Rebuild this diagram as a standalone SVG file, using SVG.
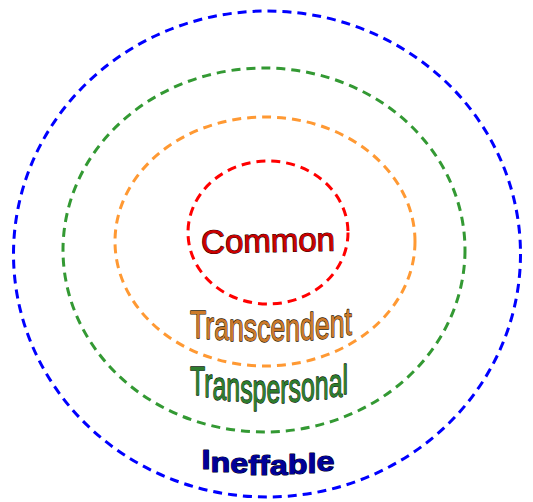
<svg xmlns="http://www.w3.org/2000/svg" width="533" height="502" viewBox="0 0 533 502">
  <style>
    .ring { fill: none; stroke-width: 3; stroke-dasharray: 9 6; }
    .lbl { font-family: "Liberation Sans", Arial, sans-serif; stroke-width: 1.1; paint-order: stroke; stroke-linejoin: round; text-anchor: middle; }
  </style>
  <rect width="533" height="502" fill="#ffffff"/>

  <g id="ineffable">
    <ellipse class="ring" cx="267" cy="254" rx="253.5" ry="243" stroke="#0000ff"/>
    <text class="lbl" x="268" y="469.4" font-size="28" font-weight="bold" fill="#000099" stroke="#000022" textLength="133" lengthAdjust="spacingAndGlyphs" dy="0 2.3 1.7 1.1 0.5 -0.1 -0.6 -1.3 -1.8">Ineffable</text>
  </g>

  <g id="transpersonal">
    <ellipse class="ring" cx="264" cy="250" rx="201" ry="182" stroke="#339933"/>
    <text class="lbl" x="269" y="395" font-size="36" fill="#2e7d2e" stroke="#0a200a" textLength="158" lengthAdjust="spacingAndGlyphs" transform="matrix(1 0 0 1.15 0 -59.7)" dy="0 2.43 1.91 1.57 1.04 0.61 0.17 -0.26 -0.78 -1.22 -1.65 -2.09 -2.52">Transpersonal</text>
  </g>

  <g id="transcendent">
    <ellipse class="ring" cx="265" cy="241.5" rx="150" ry="124.5" stroke="#ff9933"/>
    <text class="lbl" x="271" y="337.8" font-size="34" fill="#cc7a2a" stroke="#2a1500" textLength="162" lengthAdjust="spacingAndGlyphs" transform="matrix(1 0 0 1.15 0 -50.7)" dy="0 1.26 0.91 0.7 0.35 0.09 -0.26 -0.48 -0.83 -1.04 -1.39 -1.65">Transcendent</text>
  </g>

  <g id="common">
    <ellipse class="ring" cx="268" cy="232.5" rx="80" ry="71.5" stroke="#ff0000"/>
    <text class="lbl" x="268" y="252" font-size="33" fill="#cc0000" stroke="#220000" transform="rotate(-1.2 268 240)">Common</text>
  </g>

  <g id="connectors"></g>
</svg>
